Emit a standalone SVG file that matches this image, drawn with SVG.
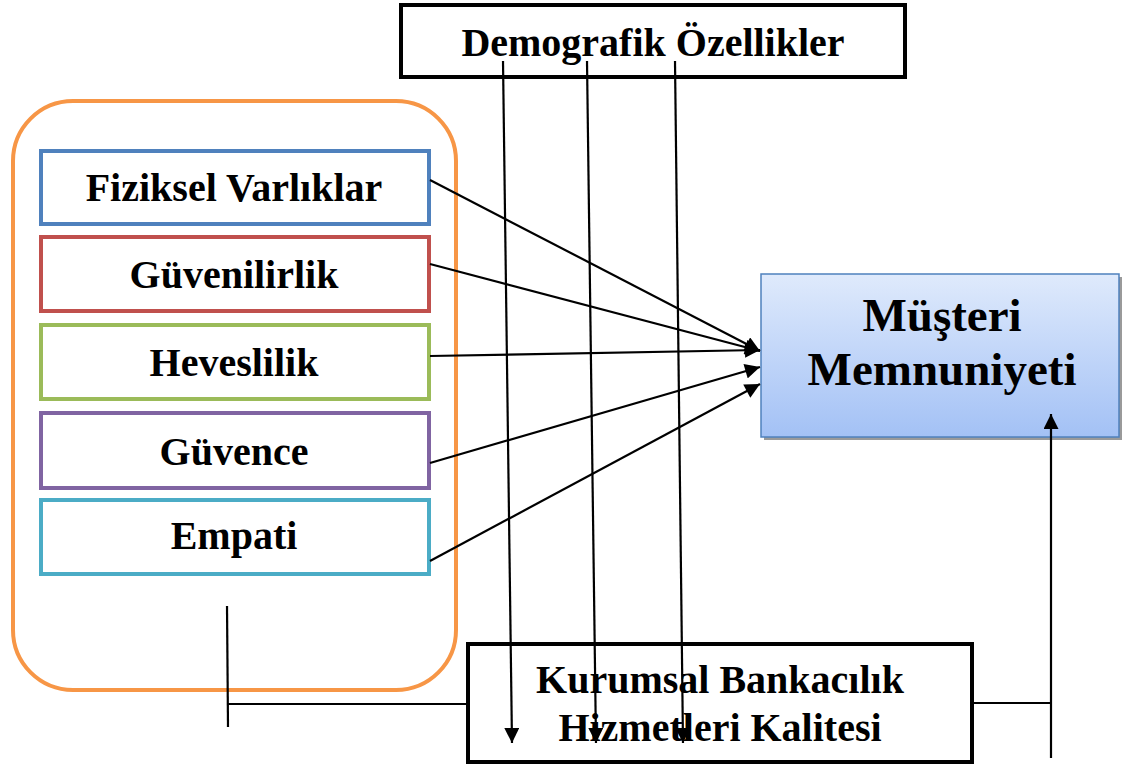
<svg xmlns="http://www.w3.org/2000/svg" width="1127" height="767" viewBox="0 0 1127 767">
<defs>
<linearGradient id="g" x1="0" y1="0" x2="0" y2="1">
<stop offset="0" stop-color="#dfeafc"/>
<stop offset="1" stop-color="#a3c1f5"/>
</linearGradient>
<marker id="ah" viewBox="0 0 10 10" refX="10" refY="5" markerWidth="16" markerHeight="15" markerUnits="userSpaceOnUse" orient="auto">
<path d="M0,0 L10,5 L0,10 z" fill="#000"/>
</marker>
</defs>
<style>
text{font-family:"Liberation Serif","Times New Roman",serif;font-weight:bold;fill:#000;text-anchor:middle}
.dim{fill:#fff;stroke-width:4}
.c{stroke:#000;stroke-width:2.2;fill:none}
.t{font-size:40px}
</style>
<rect width="1127" height="767" fill="#fff"/>
<g id="demografik">
<rect x="401" y="5" width="504" height="72" fill="#fff" stroke="#000" stroke-width="4"/>
<text x="653" y="56" font-size="40">Demografik Özellikler</text>
</g>
<g id="group-boyutlar">
<rect x="13" y="101" width="443" height="589" rx="60" fill="none" stroke="#F79646" stroke-width="4"/>
</g>
<g id="fiziksel">
<rect class="dim" x="41" y="151" width="388" height="73" stroke="#4F81BD"/>
<text class="t" x="234" y="201">Fiziksel Varlıklar</text>
</g>
<g id="guvenilirlik">
<rect class="dim" x="41" y="237" width="388" height="74" stroke="#C0504D"/>
<text class="t" x="234" y="288">Güvenilirlik</text>
</g>
<g id="heveslilik">
<rect class="dim" x="41" y="325" width="388" height="74" stroke="#9BBB59"/>
<text class="t" x="234" y="376">Heveslilik</text>
</g>
<g id="guvence">
<rect class="dim" x="41" y="413" width="388" height="75" stroke="#8064A2"/>
<text class="t" x="234" y="465">Güvence</text>
</g>
<g id="empati">
<rect class="dim" x="41" y="500" width="388" height="74" stroke="#4BACC6"/>
<text class="t" x="234" y="549">Empati</text>
</g>
<g id="musteri">
<rect x="764" y="277" width="358" height="163" fill="#9a9a9a"/>
<rect x="761" y="274" width="358" height="163" fill="url(#g)" stroke="#4F81BD" stroke-width="1.5"/>
<text x="942" y="331" font-size="47">Müşteri</text>
<text x="942" y="385" font-size="47">Memnuniyeti</text>
</g>
<g id="kurumsal">
<rect x="468" y="644" width="504" height="118" fill="#fff" stroke="#000" stroke-width="4"/>
<text x="720" y="693" font-size="40">Kurumsal Bankacılık</text>
<text x="720" y="741" font-size="40">Hizmetleri Kalitesi</text>
</g>
<g id="connectors">
<line class="c" x1="430" y1="180" x2="760" y2="351" marker-end="url(#ah)"/>
<line class="c" x1="430" y1="264" x2="760" y2="351" marker-end="url(#ah)"/>
<line class="c" x1="430" y1="356" x2="760" y2="350" marker-end="url(#ah)"/>
<line class="c" x1="430" y1="463" x2="760" y2="367" marker-end="url(#ah)"/>
<line class="c" x1="430" y1="561" x2="760" y2="384" marker-end="url(#ah)"/>
<line class="c" x1="503" y1="61" x2="512" y2="743" marker-end="url(#ah)"/>
<line class="c" x1="587" y1="61" x2="596" y2="743" marker-end="url(#ah)"/>
<line class="c" x1="675" y1="61" x2="683" y2="743" marker-end="url(#ah)"/>
<line class="c" x1="227" y1="606" x2="228" y2="727"/>
<line class="c" x1="228" y1="704" x2="467" y2="704"/>
<line class="c" x1="973" y1="703" x2="1051" y2="703"/>
<line class="c" x1="1051" y1="758" x2="1051" y2="414" marker-end="url(#ah)"/>
</g>
</svg>
